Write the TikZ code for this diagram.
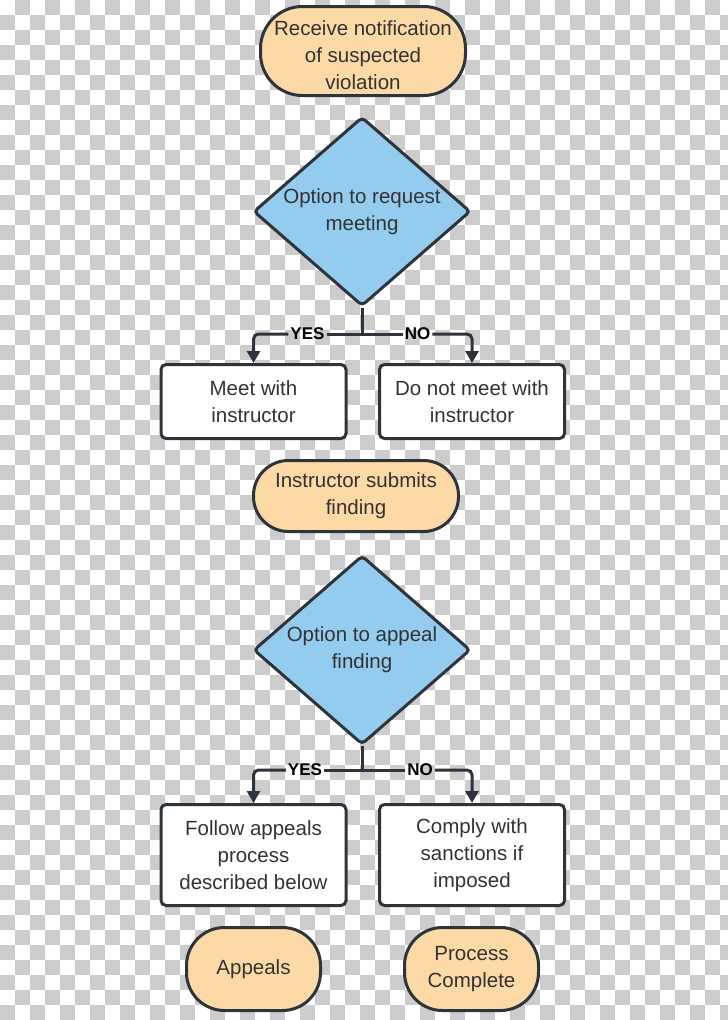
\documentclass[tikz,border=0pt]{standalone}
\usepackage{fontspec}
\setmainfont{Liberation Sans}
\usepackage{xcolor}
\usepackage{tikz}
\usetikzlibrary{arrows.meta,positioning,shapes.geometric,calc}
\definecolor{peach}{HTML}{FDD9A5}
\definecolor{skyfill}{HTML}{93CCEE}
\definecolor{edgeclr}{HTML}{2D343B}
\definecolor{txtclr}{HTML}{333333}
\definecolor{checkgray}{HTML}{CCCCCC}
\tikzset{
  base/.style={draw=edgeclr, line width=3pt, align=center, text=txtclr,
    font=\fontsize{20.5}{27}\selectfont, inner sep=0pt},
  term/.style={base, rectangle, fill=peach},
  box/.style={base, rectangle, rounded corners=5pt, fill=white,
    minimum width=185pt},
  decision/.style={base, diamond, fill=skyfill, rounded corners=4pt,
    minimum width=217pt, minimum height=189pt},
  dtext/.style={align=center, text=txtclr, font=\fontsize{20.5}{27}\selectfont},
  choice/.style={font=\bfseries\fontsize{17}{17}\selectfont, inner sep=2pt},
  conn/.style={draw=edgeclr, line width=3pt, rounded corners=5pt},
  flow/.style={conn, -{Triangle[length=12pt,width=13pt]}},
}

\begin{document}
\begin{tikzpicture}[x=1pt, y=-1pt, node distance=4mm]
\useasboundingbox (0,0) rectangle (728,1020);
% transparent background
\begin{scope}
\clip (0,0) rectangle (728,1020);
\fill[white] (0,0) rectangle (728,1020);
\foreach \r in {0,...,67}{
  \pgfmathtruncatemacro\off{mod(\r+1,2)}
  \foreach \c in {0,...,24}{
    \fill[checkgray] ({(2*\c+\off)*15},{\r*15}) rectangle ++(15,15);
  }
}
\end{scope}
% first part
\node[term, minimum width=205pt, minimum height=89pt, rounded corners=42pt]
  (notice) at (363,51) {\rule{0pt}{23pt}Receive notification\\of suspected\\violation};
\node[decision, label={[dtext]center:Option to request\\meeting}]
  (askmeet) at (362,211.5) {};
\node[box, minimum height=74pt] (meet) at (253.5,401.5) {Meet with\\instructor};
\node[box, minimum height=74pt] (nomeet) at (472,401.5) {Do not meet with\\instructor};
\coordinate (split1) at (362,334);
\node[choice] (yes1) at (307.5,334) {YES};
\node[choice] (no1) at (417.5,334) {NO};
\draw[conn] (askmeet.south) -- (split1);
\draw[conn] (split1) -- (yes1.east);
\draw[conn] (split1) -- (no1.west);
\draw[flow] (yes1.west) -| (meet.north);
\draw[flow] (no1.east) -| (nomeet.north);
% second part
\node[term, minimum width=205pt, minimum height=71pt, rounded corners=35pt]
  (submit) at (356,496) {Instructor submits\\finding};
\node[decision, label={[dtext]center:Option to appeal\\finding}]
  (askappeal) at (362,650) {};
\node[box, minimum height=101pt] (follow) at (253.5,855) {Follow appeals\\process\\described below};
\node[box, minimum height=101pt] (comply) at (472,855) {Comply with\\sanctions if\\imposed};
\coordinate (split2) at (362,770);
\node[choice] (yes2) at (305,770) {YES};
\node[choice] (no2) at (420,770) {NO};
\draw[conn] (askappeal.south) -- (split2);
\draw[conn] (split2) -- (yes2.east);
\draw[conn] (split2) -- (no2.west);
\draw[flow] (yes2.west) -| (follow.north);
\draw[flow] (no2.east) -| (comply.north);
% ends
\node[term, minimum width=134pt, minimum height=83pt, rounded corners=38pt]
  (appeals) at (253.5,969) {Appeals};
\node[term, minimum width=134pt, minimum height=83pt, rounded corners=38pt]
  (done) at (471.5,969) {Process\\Complete};
\end{tikzpicture}
\end{document}
